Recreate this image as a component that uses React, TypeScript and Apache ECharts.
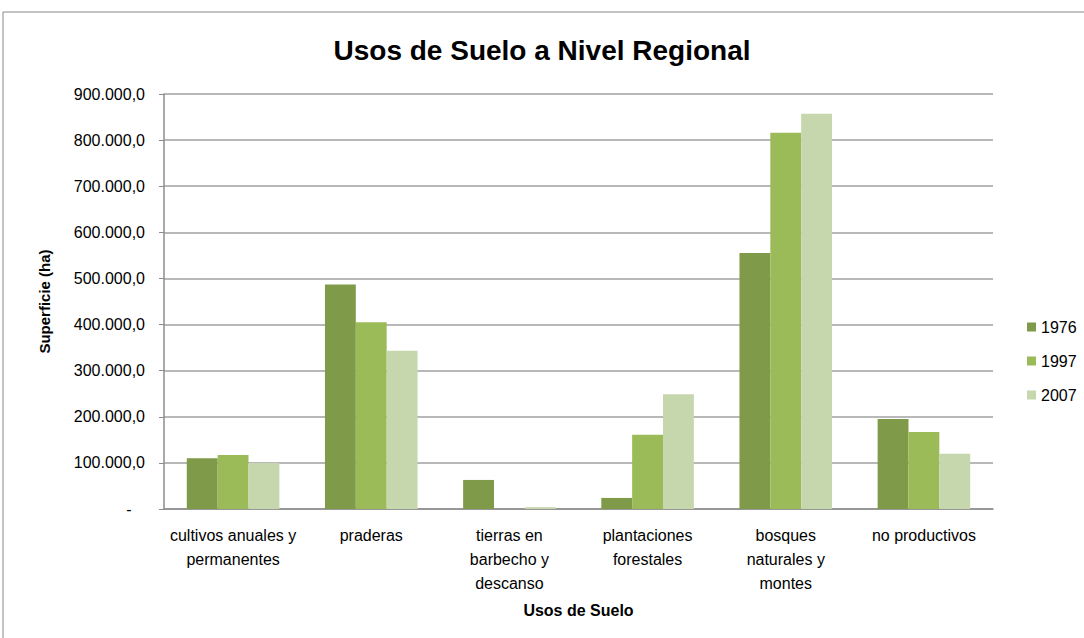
import React, { useEffect, useRef } from "react";
import * as echarts from "echarts";

const categories = [
  "cultivos anuales y permanentes",
  "praderas",
  "tierras en barbecho y descanso",
  "plantaciones forestales",
  "bosques naturales y montes",
  "no productivos",
];
const categoryLines = [
  ["cultivos anuales y", "permanentes"],
  ["praderas"],
  ["tierras en", "barbecho y", "descanso"],
  ["plantaciones", "forestales"],
  ["bosques", "naturales y", "montes"],
  ["no productivos"],
];
const seriesNames = ["1976", "1997", "2007"];
const values1976 = [110000, 487000, 63000, 24000, 555000, 195000];
const values1997 = [117000, 405000, 0, 161000, 816000, 167000];
const values2007 = [99600, 343000, 4000, 249000, 857000, 120000];
const colors = ["#7f9a48", "#9bbb59", "#c6d6ad"];

const fmt = (v: number) => {
  if (v === 0) return "-   ";
  const s = Math.round(v).toString().replace(/\B(?=(\d{3})+(?!\d))/g, ".");
  return s + ",0";
};

export default function App() {
  const ref = useRef<HTMLDivElement>(null);
  useEffect(() => {
    if (!ref.current) return;
    const chart = echarts.init(ref.current, undefined, { renderer: "svg" });
    const font = "Liberation Sans";
    const data = [values1976, values1997, values2007];
    chart.setOption({
      animation: false,
      backgroundColor: "#ffffff",
      textStyle: { fontFamily: font },
      title: {
        text: "Usos de Suelo a Nivel Regional",
        left: "center",
        top: 31,
        textStyle: { fontFamily: font, fontSize: 28, fontWeight: "bold", color: "#000" },
      },
      legend: {
        orient: "vertical",
        left: 1022,
        top: 314,
        itemWidth: 9,
        itemHeight: 9,
        itemGap: 18,
        icon: "rect",
        data: seriesNames,
        textStyle: { fontFamily: font, fontSize: 16, color: "#000" },
      },
      graphic: [
        {
          type: "rect",
          shape: { x: 3, y: 12, width: 1200, height: 800 },
          style: { fill: "none", stroke: "#888888", lineWidth: 1 },
          silent: true,
        },
      ],
      grid: { left: 164, right: 91, top: 94, bottom: 129 },
      xAxis: {
        type: "category",
        data: categories,
        name: "Usos de Suelo",
        nameLocation: "middle",
        nameGap: 93,
        nameTextStyle: { fontFamily: font, fontSize: 16, fontWeight: "bold", color: "#000" },
        axisTick: { show: false },
        axisLine: { lineStyle: { color: "#8c8c8c", width: 1.5 } },
        axisLabel: {
          interval: 0,
          margin: 14,
          lineHeight: 24,
          fontSize: 16,
          color: "#000",
          fontFamily: font,
          formatter: (_v: string, i: number) => categoryLines[i].join("\n"),
          verticalAlign: "top",
        },
      },
      yAxis: {
        type: "value",
        min: 0,
        max: 900000,
        interval: 100000,
        name: "Superficie (ha)",
        nameLocation: "middle",
        nameGap: 112,
        nameRotate: 90,
        nameTextStyle: { fontFamily: font, fontSize: 15, fontWeight: "bold", color: "#000" },
        axisLine: { show: true, lineStyle: { color: "#8c8c8c", width: 1.5 } },
        axisTick: { show: true, length: 5, lineStyle: { color: "#8c8c8c" } },
        splitLine: { lineStyle: { color: "#a0a0a0", width: 1.5 } },
        axisLabel: {
          margin: 19,
          fontSize: 16,
          color: "#000",
          fontFamily: font,
          formatter: (v: number) => fmt(v),
        },
      },
      series: seriesNames.map((n, i) => ({
        name: n,
        type: "bar",
        data: data[i],
        barGap: "0%",
        barCategoryGap: "33%",
        itemStyle: { color: colors[i] },
      })),
    });
    return () => chart.dispose();
  }, []);
  return (
    <div
      ref={ref}
      style={{ position: "fixed", left: 0, top: 0, width: 1084, height: 638 }}
    />
  );
}
